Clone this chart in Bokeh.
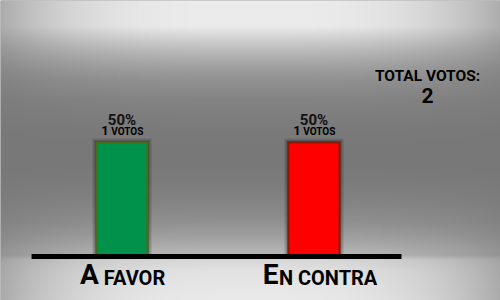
import numpy as np
from bokeh.plotting import figure
from bokeh.models import Range1d, Label
from bokeh.core.properties import value
from bokeh.embed import file_html
from bokeh.resources import INLINE

# ---- data ----
categories = ["A favor", "En contra"]
votes = [1, 1]
percents = [50, 50]
total_votes = 2

bar_colors = ["#00914a", "#ff0000"]
bar_borders = ["#4a6a1c", "#8a1a0a"]

FONT = "Roboto"
BASE_SHIFT = 0.38  # calibration of alphabetic baseline in renderer

W, H = 500, 300
xs = list(range(len(categories)))

p = figure(width=W, height=H, x_range=Range1d(-0.6328, 1.9714),
           y_range=Range1d(-19.3, 112.3), output_backend="svg",
           toolbar_location=None, min_border=0)
p.axis.visible = False
p.grid.visible = False
p.outline_line_color = None
p.background_fill_color = "#808080"
p.border_fill_color = "#808080"

# ---- background gradient (style only) ----
py = np.arange(H)  # from top
keys_y = [0, 25, 30, 40, 50, 60, 70, 80, 100, 130, 160, 180, 200, 220, 235, 250, 254, 259, 270, 285, 300]
keys_v = [236, 236, 226, 205, 186, 170, 156, 145, 131, 122, 120, 124, 132, 144, 160, 180, 182, 216, 226, 231, 234]
prof = np.interp(py, keys_y, keys_v)
px = np.arange(W)
d = np.abs(px - W / 2) / (W / 2)
f = 1 - 0.55 * d ** 3
base = 120.0
img = base + (prof[:, None] - base) * f[None, :]
img = np.clip(img, 0, 255).astype(np.uint32)
img = img[::-1]  # row 0 at bottom
rgba = (255 << 24) | (img << 16) | (img << 8) | img
rgba = rgba.view(np.uint32).reshape(H, W)
p.image_rgba(image=[rgba], x=-0.6328, y=-19.3, dw=1.9714 + 0.6328, dh=112.3 + 19.3)

# ---- shadows around bars ----
for grow, a in [(0.045, 0.10), (0.03, 0.15), (0.016, 0.22)]:
    p.vbar(x=xs, top=[v + grow * 40 for v in percents], bottom=0, width=0.2656 + grow,
           fill_color="black", fill_alpha=a, line_color=None)

# ---- bars ----
p.vbar(x=xs, top=percents, bottom=0, width=0.2656, fill_color=bar_colors,
       line_color=bar_borders, line_width=2)

# ---- baseline ----
p.segment(x0=[-0.471], y0=[0], x1=[1.4557], y1=[0], line_color="black", line_width=5)

# ---- text helpers (small caps emulation) ----
def est_width(s, size):
    w = 0.0
    for ch in s:
        if ch == " ":
            w += 0.25
        elif ch == "I":
            w += 0.29
        elif ch in "MW":
            w += 0.85
        elif ch in "OQ":
            w += 0.68
        else:
            w += 0.61
    return w * size

def small_caps(x, y, labels, big, small, baseline_off, shift=0.0):
    inits = [s[0].upper() for s in labels]
    rests, gaps, offs = [], [], []
    for ini, s in zip(inits, labels):
        rest = s[1:]
        gap = 0.25 * small if rest.startswith(" ") else 0.5
        rest = rest.strip().upper()
        wi = est_width(ini, big)
        wr = est_width(rest, small)
        total = wi + gap + wr
        offs.append(-total / 2 + wi + shift)
        rests.append(rest)
        gaps.append(gap)
    p.text(x=x, y=y, text=inits, x_offset=offs,
           y_offset=baseline_off - BASE_SHIFT * big,
           text_font=value(FONT), text_font_style="bold",
           text_font_size=f"{big}px", text_align="right",
           text_baseline="alphabetic", text_color="black")
    p.text(x=x, y=y, text=rests, x_offset=[o + g for o, g in zip(offs, gaps)],
           y_offset=baseline_off - BASE_SHIFT * small,
           text_font=value(FONT), text_font_style="bold",
           text_font_size=f"{small}px", text_align="left",
           text_baseline="alphabetic", text_color="black")

# category labels
small_caps(xs, [0] * len(xs), categories, 28, 20, 29, shift=2)

# value labels
p.text(x=xs, y=percents, text=[f"{v}%" for v in percents],
       y_offset=-17 - BASE_SHIFT * 15,
       text_font=value(FONT), text_font_style="bold", text_font_size="15px",
       text_align="center", text_baseline="alphabetic", text_color="#111111")
small_caps(xs, percents, [f"{n} votos" for n in votes], 13, 10, -7)

# total
p.add_layout(Label(x=427, y=H - 81 + BASE_SHIFT * 15.5, x_units="screen", y_units="screen",
                   text="TOTAL VOTOS:", text_font=FONT, text_font_style="bold",
                   text_font_size="15.5px", text_align="center",
                   text_baseline="alphabetic", text_color="black"))
p.add_layout(Label(x=427, y=H - 103 + BASE_SHIFT * 21, x_units="screen", y_units="screen",
                   text=str(total_votes), text_font=FONT, text_font_style="bold",
                   text_font_size="21px", text_align="center",
                   text_baseline="alphabetic", text_color="black"))

open("out.html", "w").write(file_html(p, INLINE))
